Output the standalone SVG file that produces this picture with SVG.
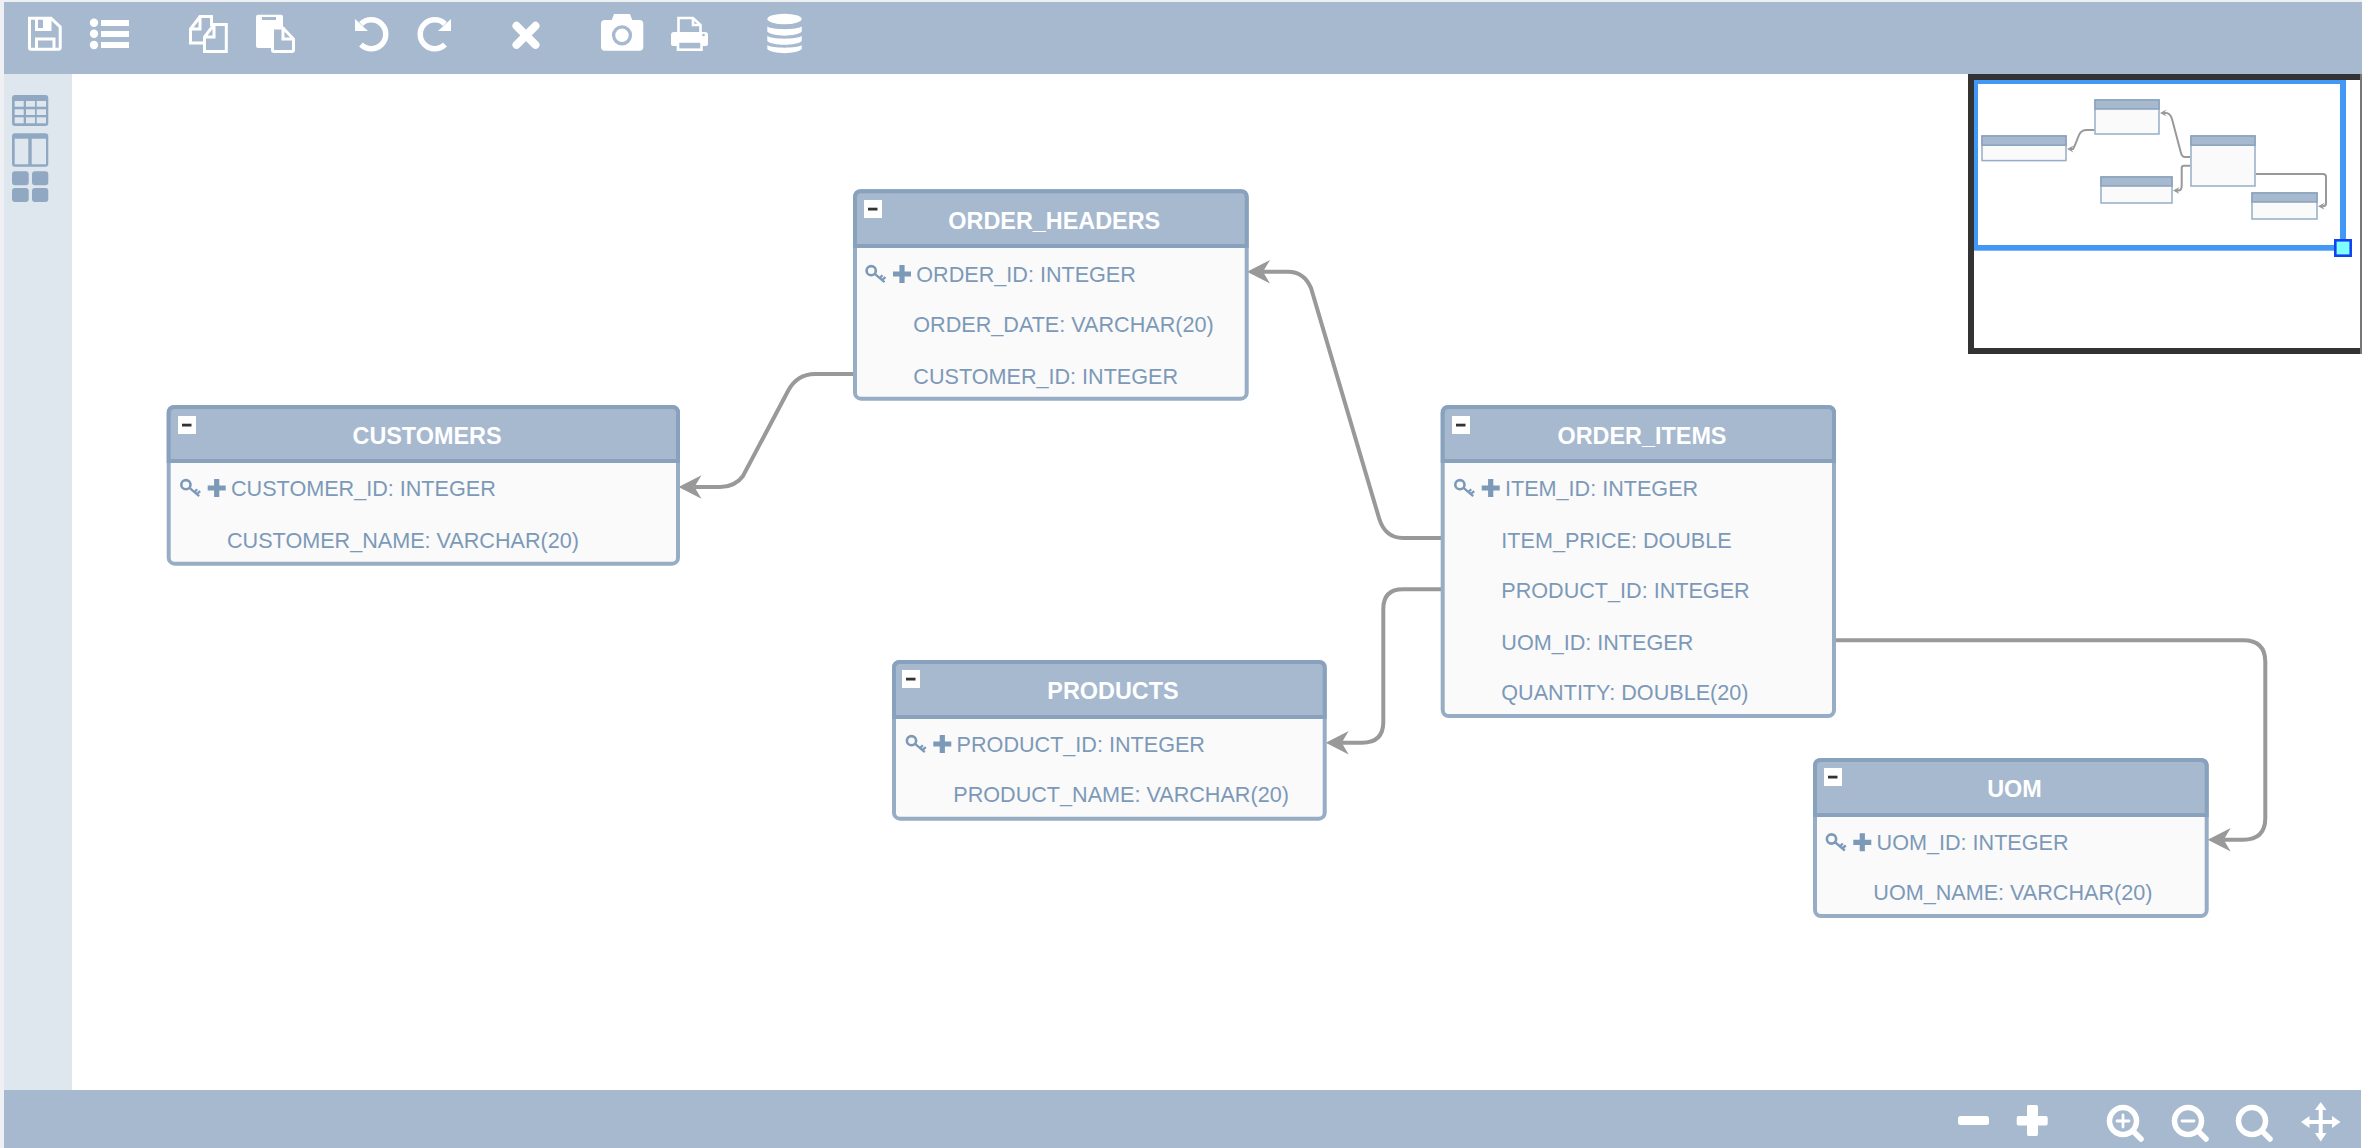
<svg xmlns="http://www.w3.org/2000/svg" xmlns:xlink="http://www.w3.org/1999/xlink" width="2362" height="1148" viewBox="0 0 2362 1148">
<style>
.body{fill:#fafafa;stroke:#96adc5;stroke-width:4}
.head{fill:#a6b9cf;stroke:#88a1bc;stroke-width:4}
.title{font:bold 23.4px "Liberation Sans",Arial,sans-serif;fill:#fff;text-anchor:middle}
.row{font:21.6px "Liberation Sans",Arial,sans-serif;fill:#7c99b8}
.conn{fill:none;stroke:#999;stroke-width:4}
.mconn{fill:none;stroke:#999;stroke-width:2}
.mbody{fill:#fafafa;stroke:#96adc5;stroke-width:1.5}
.mhead{fill:#a6b9cf;stroke:#88a1bc;stroke-width:1.5}
.wl{fill:none;stroke:#fff;stroke-width:3}
.wf{fill:#fff}
.side{fill:#90a8c1}
.cell{fill:#dfe7ee}
</style>
<defs>
<marker id="arrow" markerUnits="userSpaceOnUse" markerWidth="26" markerHeight="26" viewBox="-8 -13 26 26" refX="0" refY="0" orient="auto">
<path d="M16,0 L-7,-11.7 L0,0 L-7,11.7 Z" fill="#999"/>
</marker>
<marker id="marrow" markerUnits="userSpaceOnUse" markerWidth="10" markerHeight="10" viewBox="-3 -5 10 10" refX="0" refY="0" orient="auto">
<path d="M4,0 L-2.5,-3.5 L0,0 L-2.5,3.5 Z" fill="#999"/>
</marker>
<g id="minus">
<rect width="18" height="18" fill="#fff"/>
<rect x="4" y="7.7" width="9.5" height="2.8" fill="#333"/>
</g>
<g id="pk">
<circle cx="-45.8" cy="-11" r="4.6" fill="none" stroke="#7c99b8" stroke-width="2.6"/>
<path d="M-42.500,-8 L-32.500,0.500 M-37,-4 L-34.500,-6.500 M-34.500,-2 L-31.500,-4.500" fill="none" stroke="#7c99b8" stroke-width="2.300"/>
<path d="M-24,-7.700 H-6 M-15,-16.700 V1.300" fill="none" stroke="#7c99b8" stroke-width="5.200"/>
</g>
</defs>

<rect width="2362" height="1148" fill="#fff"/>
<g id="chrome">
<rect x="0" y="0" width="4" height="1148" fill="#eef0f4"/>
<rect x="0" y="0" width="2362" height="2" fill="#eef0f4"/>
<rect x="4" y="74" width="68" height="1016" fill="#dfe7ee"/>
<rect x="4" y="2" width="2358" height="72" fill="#a6b9cf"/>
<rect x="4" y="1090" width="2357" height="58" fill="#a6b9cf"/>
</g>

<g id="toolbar-top">
<g id="icon-save">
<path class="wl" d="M29.500,18.200 H51 L60.200,27 V47.500 Q60.200,49.200 58.500,49.200 H31 Q29.500,49.200 29.500,47.500 Z"/>
<path class="wl" d="M36.500,18 V29.500 H50 V18 M36.500,49 V39 H54 V49"/>
<rect class="wf" x="43" y="18" width="6" height="11"/>
</g>
<g id="icon-list">
<circle class="wf" cx="94" cy="22.700" r="4.200"/><circle class="wf" cx="94" cy="33.700" r="4.200"/><circle class="wf" cx="94" cy="45" r="4.200"/>
<rect class="wf" x="101" y="20" width="28" height="6"/><rect class="wf" x="101" y="31" width="28" height="6"/><rect class="wf" x="101" y="42" width="28" height="6"/>
</g>
<g id="icon-copy">
<path class="wl" d="M203,43 H190.500 V29 L200,16.500 H211.500 V26 M200,16.500 V29 H190.500"/>
<path class="wl" d="M214,24.500 H226.300 V51.500 H204.500 V37 Z M214,24.500 V37 H204.500"/>
</g>
<g id="icon-paste">
<rect class="wf" x="256" y="14.700" width="27" height="33.300" rx="2"/>
<rect x="262" y="17" width="14" height="3" fill="#a6b9cf"/>
<path d="M272.500,28 H283 L293.500,39 V50 Q293.500,51.500 292,51.500 H274 Q272.500,51.500 272.500,50 Z" fill="#a6b9cf" stroke="#fff" stroke-width="3"/>
<path class="wl" d="M283,28 V39 H293.500"/>
</g>
<g id="icon-undo">
<path d="M361,24 A14.500,14.500 0 1 1 361,44.500" fill="none" stroke="#fff" stroke-width="5.500"/>
<path class="wf" d="M355,19 V31 H368 Z"/>
</g>
<g id="icon-redo" transform="translate(806,0) scale(-1,1)">
<path d="M361,24 A14.500,14.500 0 1 1 361,44.500" fill="none" stroke="#fff" stroke-width="5.500"/>
<path class="wf" d="M355,19 V31 H368 Z"/>
</g>
<g id="icon-delete">
<path d="M516.500,25.800 L535.500,44.800 M535.500,25.800 L516.500,44.800" fill="none" stroke="#fff" stroke-width="8" stroke-linecap="round"/>
</g>
<g id="icon-camera">
<rect class="wf" x="601" y="20" width="42.300" height="30.700" rx="4"/>
<path class="wf" d="M611,22 L614,14 H630 L633,22 Z"/>
<circle cx="622" cy="35.300" r="8.400" fill="#fff" stroke="#a6b9cf" stroke-width="3.400"/>
</g>
<g id="icon-print">
<path d="M678.500,33 V18 H693 L700.500,25 V33" fill="#a6b9cf" stroke="#fff" stroke-width="2.600"/>
<path d="M693,18 V25 H700.500" fill="none" stroke="#fff" stroke-width="2.600"/>
<path class="wf" d="M674,32 H705 Q708,32 708,35 V44 Q708,46 706,46 H673 Q671,46 671,44 V35 Q671,32 674,32 Z"/>
<rect x="678" y="41.500" width="23.500" height="8.200" fill="#a6b9cf" stroke="#fff" stroke-width="2.600"/>
<circle cx="703.500" cy="35" r="1.300" fill="#a6b9cf"/>
</g>
<g id="icon-db">
<ellipse class="wf" cx="784.500" cy="19" rx="17.200" ry="5.200"/>
<path class="wf" d="M767.300,26.500 C772,30 797,30 801.700,26.500 V31.500 C797,37 772,37 767.300,31.500 Z"/>
<path class="wf" d="M767.300,36 C772,39.500 797,39.500 801.700,36 V41 C797,46 772,46 767.300,41 Z"/>
<path class="wf" d="M767.300,45.300 C772,48.500 797,48.500 801.700,45.300 V49 C797,54.500 772,54.500 767.300,49 Z"/>
</g>
</g>

<g id="toolbar-side">
<g id="icon-table">
<rect class="side" x="12" y="95" width="36.300" height="31" rx="3"/>
<rect class="cell" x="14.700" y="101" width="9" height="5.700"/><rect class="cell" x="26" y="101" width="9" height="5.700"/><rect class="cell" x="36.700" y="101" width="9.300" height="5.700"/>
<rect class="cell" x="14.700" y="109.300" width="9" height="5.700"/><rect class="cell" x="26" y="109.300" width="9" height="5.700"/><rect class="cell" x="36.700" y="109.300" width="9.300" height="5.700"/>
<rect class="cell" x="14.700" y="117.300" width="9" height="6"/><rect class="cell" x="26" y="117.300" width="9" height="6"/><rect class="cell" x="36.700" y="117.300" width="9.300" height="6"/>
</g>
<g id="icon-columns">
<rect class="side" x="12" y="133.300" width="36.300" height="33.400" rx="3"/>
<rect class="cell" x="14.700" y="138.700" width="13.600" height="25.600"/><rect class="cell" x="31.700" y="138.700" width="14.300" height="25.600"/>
</g>
<g id="icon-grid">
<rect class="side" x="12" y="171.300" width="16.700" height="14" rx="3"/><rect class="side" x="32" y="171.300" width="16.300" height="14" rx="3"/>
<rect class="side" x="12" y="188" width="16.700" height="14" rx="3"/><rect class="side" x="32" y="188" width="16.300" height="14" rx="3"/>
</g>
</g>

<g id="toolbar-bottom">
<rect class="wf" x="1958" y="1116" width="31" height="9" rx="2.500"/>
<path class="wf" d="M2028,1105 H2036.500 Q2038,1105 2038,1107 V1116 H2046 Q2047.700,1116 2047.700,1118 V1123.500 Q2047.700,1125.500 2046,1125.500 H2038 V1134 Q2038,1136 2036.500,1136 H2028.500 Q2027,1136 2027,1134 V1125.500 H2018.500 Q2016.700,1125.500 2016.700,1123.500 V1118 Q2016.700,1116 2018.500,1116 H2027 V1107 Q2027,1105 2028,1105 Z"/>
<g fill="none" stroke="#fff" stroke-width="5.500" stroke-linecap="round">
<circle cx="2123" cy="1121" r="13.500"/><path d="M2133,1131 L2141,1139"/>
<path d="M2117,1121 H2129 M2123,1115 V1127" stroke-width="2.800"/>
<circle cx="2188" cy="1121" r="13.500"/><path d="M2198,1131 L2206,1139"/>
<path d="M2182,1121 H2194" stroke-width="2.800"/>
<circle cx="2252" cy="1121" r="13.500"/><path d="M2262,1131 L2270,1139"/>
</g>
<g id="icon-move" class="wf">
<path d="M2318.700,1110 H2322.700 V1120 H2332 V1116 L2340.500,1122 L2332,1128 V1124 H2322.700 V1133 H2326.500 L2320.700,1141.500 L2314.900,1133 H2318.700 V1124 H2309.500 V1128 L2301,1122 L2309.500,1116 V1120 H2318.700 Z"/>
<path d="M2314.900,1110 L2320.700,1102 L2326.500,1110 Z"/>
</g>
</g>

<g id="connectors">
<path class="conn" marker-end="url(#arrow)" d="M853,374 H815 Q797,374 788,391 L743,476 Q735,487 720,487 H694.500"/>
<path class="conn" marker-end="url(#arrow)" d="M1441,538 H1403 Q1385,538 1379,518 L1311,288 Q1304,271.700 1288,271.700 H1263"/>
<path class="conn" marker-end="url(#arrow)" d="M1441,589.300 H1403 Q1383.300,589.300 1383.300,609 V722 Q1383.300,742.700 1362,742.700 H1341.700"/>
<path class="conn" marker-end="url(#arrow)" d="M1836,640.300 H2243 Q2265.300,640.300 2265.300,662 V818 Q2265.300,839.700 2243,839.700 H2223.700"/>
</g>

<g id="node-customers">
<rect class="body" x="168.700" y="407" width="509.300" height="156.700" rx="6"/>
<path class="head" d="M168.700,461 V413 Q168.700,407 174.700,407 H672 Q678,407 678,413 V461 Z"/>
<use href="#minus" x="178" y="416"/>
<text class="title" x="427" y="444">CUSTOMERS</text>
<use href="#pk" x="231.700" y="495.700"/>
<text class="row" x="231" y="495.700">CUSTOMER_ID: INTEGER</text>
<text class="row" x="227" y="547.700">CUSTOMER_NAME: VARCHAR(20)</text>
</g>

<g id="node-order-headers">
<rect class="body" x="855" y="191.300" width="391.700" height="207.400" rx="6"/>
<path class="head" d="M855,246 V197.300 Q855,191.300 861,191.300 H1240.700 Q1246.700,191.300 1246.700,197.300 V246 Z"/>
<use href="#minus" x="864" y="200"/>
<text class="title" x="1054.300" y="229">ORDER_HEADERS</text>
<use href="#pk" x="917" y="281.700"/>
<text class="row" x="916.300" y="281.700">ORDER_ID: INTEGER</text>
<text class="row" x="913.300" y="332.300">ORDER_DATE: VARCHAR(20)</text>
<text class="row" x="913.300" y="383.800">CUSTOMER_ID: INTEGER</text>
</g>

<g id="node-order-items">
<rect class="body" x="1442.700" y="407" width="391.300" height="309" rx="6"/>
<path class="head" d="M1442.700,461 V413 Q1442.700,407 1448.700,407 H1828 Q1834,407 1834,413 V461 Z"/>
<use href="#minus" x="1452" y="416"/>
<text class="title" x="1642" y="444">ORDER_ITEMS</text>
<use href="#pk" x="1505.700" y="495.700"/>
<text class="row" x="1505" y="495.700">ITEM_ID: INTEGER</text>
<text class="row" x="1501.300" y="547.700">ITEM_PRICE: DOUBLE</text>
<text class="row" x="1501.300" y="597.700">PRODUCT_ID: INTEGER</text>
<text class="row" x="1501.300" y="649.700">UOM_ID: INTEGER</text>
<text class="row" x="1501.300" y="700">QUANTITY: DOUBLE(20)</text>
</g>

<g id="node-products">
<rect class="body" x="894" y="662" width="430.700" height="156.700" rx="6"/>
<path class="head" d="M894,717 V668 Q894,662 900,662 H1318.700 Q1324.700,662 1324.700,668 V717 Z"/>
<use href="#minus" x="902" y="670"/>
<text class="title" x="1113" y="698.700">PRODUCTS</text>
<use href="#pk" x="957.300" y="751.700"/>
<text class="row" x="956.600" y="751.700">PRODUCT_ID: INTEGER</text>
<text class="row" x="953.300" y="802.300">PRODUCT_NAME: VARCHAR(20)</text>
</g>

<g id="node-uom">
<rect class="body" x="1815" y="760" width="391.700" height="156" rx="6"/>
<path class="head" d="M1815,815 V766 Q1815,760 1821,760 H2200.700 Q2206.700,760 2206.700,766 V815 Z"/>
<use href="#minus" x="1824" y="768"/>
<text class="title" x="2014.500" y="796.800">UOM</text>
<use href="#pk" x="1877.300" y="850"/>
<text class="row" x="1876.600" y="850">UOM_ID: INTEGER</text>
<text class="row" x="1873.300" y="900">UOM_NAME: VARCHAR(20)</text>
</g>

<g id="minimap">
<rect x="1968" y="74" width="394" height="280" fill="#333"/>
<rect x="2360" y="74" width="2" height="280" fill="#777"/>
<rect x="1974" y="80" width="386" height="268" fill="#fff"/>
<rect x="1974" y="80" width="372" height="170.700" fill="#4299f5"/>
<rect x="1978" y="84" width="362" height="161" fill="#fff"/>
<g id="mini-connectors">
<path class="mconn" marker-end="url(#marrow)" d="M2094.300,130 H2087 Q2081,130 2079,135 L2075,145 Q2073,149 2073,149 H2071"/>
<path class="mconn" marker-end="url(#marrow)" d="M2190.300,157 H2185 Q2182,157 2181,153 L2172,119 Q2170,113 2166,113 H2164"/>
<path class="mconn" marker-end="url(#marrow)" d="M2190.300,165.700 H2184 Q2181.700,165.700 2181.700,168 V186 Q2181.700,190.500 2178,190.500 H2177"/>
<path class="mconn" marker-end="url(#marrow)" d="M2255.700,174 H2323 Q2326,174 2326,177 V203 Q2326,206.300 2323,206.300 H2322"/>
</g>
<rect class="mbody" x="1982" y="136" width="84" height="24.600"/><rect class="mhead" x="1982" y="136" width="84" height="9.200"/>
<rect class="mbody" x="2095" y="100" width="64" height="34"/><rect class="mhead" x="2095" y="100" width="64" height="9"/>
<rect class="mbody" x="2191" y="136" width="64" height="50"/><rect class="mhead" x="2191" y="136" width="64" height="9.200"/>
<rect class="mbody" x="2101" y="177" width="71" height="26"/><rect class="mhead" x="2101" y="177" width="71" height="9"/>
<rect class="mbody" x="2252" y="193" width="65" height="26"/><rect class="mhead" x="2252" y="193" width="65" height="9"/>
<rect x="2335.300" y="240.300" width="15.400" height="15.400" fill="#7fffff" stroke="#1144f0" stroke-width="2.600"/>
</g>
</svg>
